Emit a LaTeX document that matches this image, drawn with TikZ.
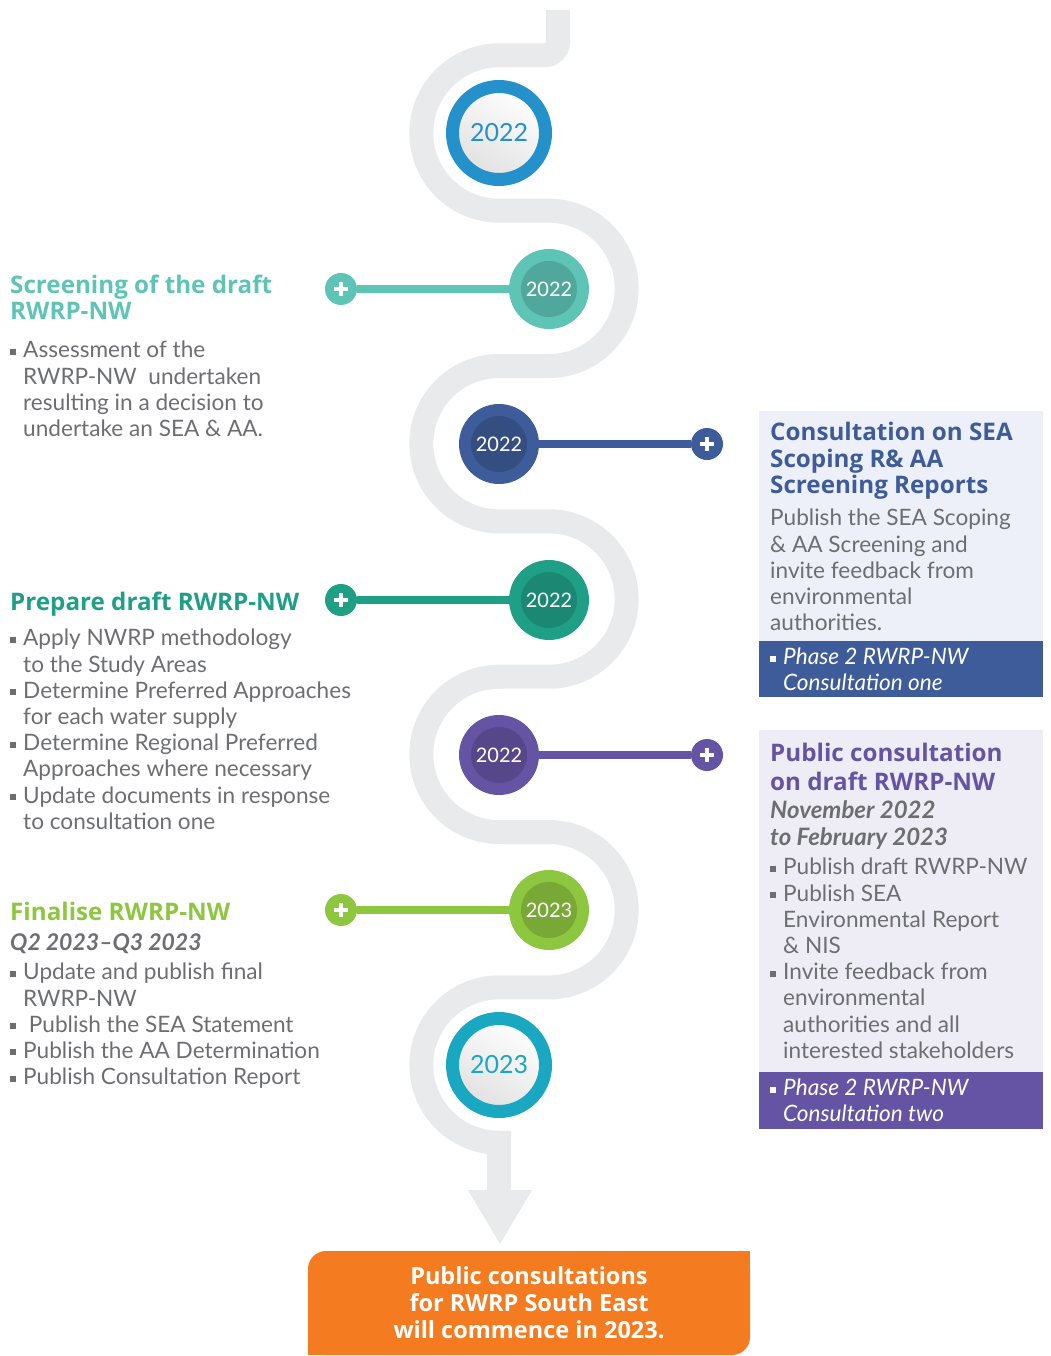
\documentclass[tikz,border=0pt]{standalone}
\usepackage{fontspec}
\setmainfont{Lato}
\newfontfamily\headfont{Open Sans}
\usetikzlibrary{positioning}

\definecolor{road}{HTML}{E9EAEC}
\definecolor{txt}{HTML}{6D6E71}
\definecolor{yblue}{HTML}{2591CB}
\definecolor{ycyan}{HTML}{1AA7C1}
\definecolor{yteal}{HTML}{5EC4B6}
\definecolor{ynavy}{HTML}{3E5C99}
\definecolor{ygreen}{HTML}{1FA086}
\definecolor{ypurple}{HTML}{6454A3}
\definecolor{ylime}{HTML}{8DC63F}
\definecolor{boxone}{HTML}{EDF0F8}
\definecolor{boxtwo}{HTML}{EEEDF6}
\definecolor{finalorange}{HTML}{F47B20}

\newcommand\sqbul{\makebox[13pt][l]{\rule[3pt]{6pt}{6pt}}}
\newcommand\sqgap{\hspace*{13pt}}

\begin{document}
\begin{tikzpicture}[x=1pt, y=-1pt,
  bigyear/.style={circle, draw=#1, line width=13pt, minimum size=93pt, inner sep=0pt,
    top color=white, bottom color=black!12, shading angle=-30, text=#1,
    font=\fontsize{25}{25}\selectfont},
  midyear/.style={circle, fill=#1, minimum size=80pt, inner sep=0pt, text=white,
    font=\fontsize{20}{20}\selectfont,
    path picture={\fill[#1!85!black] (path picture bounding box.center) circle (28pt);}},
  knob/.style={circle, fill=#1, minimum size=32pt, inner sep=0pt,
    path picture={\fill[white] (path picture bounding box.center) ++(-7pt,-2pt) rectangle ++(14pt,4pt);
                  \fill[white] (path picture bounding box.center) ++(-2pt,-7pt) rectangle ++(4pt,14pt);}},
  stem/.style={draw=#1, line width=8pt},
  headtext/.style={anchor=north west, inner sep=0pt, align=left, text=#1,
    font=\headfont\bfseries\fontsize{24.2}{26}\selectfont, execute at begin node=\strut},
  datetext/.style={anchor=north west, inner sep=0pt, align=left, text=txt,
    font=\bfseries\itshape\fontsize{24}{27}\selectfont, execute at begin node=\strut},
  bodytext/.style={anchor=north west, inner sep=0pt, align=left, text=txt,
    font=\fontsize{22.6}{26.2}\selectfont, execute at begin node=\strut}]
\useasboundingbox (0,0) rectangle (1050,1356);

\draw[road, line width=24pt] (558,10) -- (558,42) arc[start angle=0, end angle=90, radius=13.33]
  -- (499,55.33) arc[start angle=270, end angle=90, radius=77.67]
  -- ++(50,0) arc[start angle=-90, end angle=90, radius=77.67]
  -- ++(-50,0) arc[start angle=270, end angle=90, radius=77.67]
  -- ++(50,0) arc[start angle=-90, end angle=90, radius=77.67]
  -- ++(-50,0) arc[start angle=270, end angle=90, radius=77.67]
  -- ++(50,0) arc[start angle=-90, end angle=90, radius=77.67]
  -- ++(-50,0) arc[start angle=270, end angle=90, radius=77.67]
  -- (499,1191);
\fill[road] (468,1190) -- (532,1190) -- (500,1244) -- cycle;

\node (y1) [bigyear=yblue] at (499,133) {2022};
\node (y2) [midyear=yteal] at (549,289) {2022};
\node (y3) [midyear=ynavy] at (499,444) {2022};
\node (y4) [midyear=ygreen] at (549,600) {2022};
\node (y5) [midyear=ypurple] at (499,755) {2022};
\node (y6) [midyear=ylime] at (549,910) {2023};
\node (y7) [bigyear=ycyan] at (499,1065) {2023};

\node (k2) [knob=yteal] at (341,289) {};
\node (k3) [knob=ynavy] at (707,444) {};
\node (k4) [knob=ygreen] at (341,600) {};
\node (k5) [knob=ypurple] at (707,755) {};
\node (k6) [knob=ylime] at (341,910) {};
\draw[stem=yteal] (k2) -- (y2);
\draw[stem=ynavy] (k3) -- (y3);
\draw[stem=ygreen] (k4) -- (y4);
\draw[stem=ypurple] (k5) -- (y5);
\draw[stem=ylime] (k6) -- (y6);

\node (screenhead) [headtext=yteal] at (10,275) {Screening of the draft\\RWRP-NW};
\node (screenbody) [bodytext] at (10,341) {\sqbul Assessment of the\\
  \sqgap RWRP-NW\ \ undertaken\\ \sqgap resulting in a decision to\\ \sqgap undertake an SEA \& AA.};

\node (prephead) [headtext=ygreen] at (10,592) {Prepare draft RWRP-NW};
\node (prepbody) [bodytext] at (10,629) {\sqbul Apply NWRP methodology\\ \sqgap to the Study Areas\\
  \sqbul Determine Preferred Approaches\\ \sqgap for each water supply\\
  \sqbul Determine Regional Preferred\\ \sqgap Approaches where necessary\\
  \sqbul Update documents in response\\ \sqgap to consultation one};

\node (finhead) [headtext=ylime] at (10,902) {Finalise RWRP-NW};
\node (findate) [datetext, font=\bfseries\itshape\fontsize{23}{27}\selectfont] at (10,931) {Q2 2023--Q3 2023};
\node (finbody) [bodytext] at (10,963) {\sqbul Update and publish final\\ \sqgap RWRP-NW\\
  \sqbul\ Publish the SEA Statement\\ \sqbul Publish the AA Determination\\ \sqbul Publish Consultation Report};

\fill[boxone] (759,411) rectangle (1043,697);
\fill[ynavy] (759,641) rectangle (1043,697);
\node (conshead) [headtext=ynavy, font=\headfont\bfseries\fontsize{24.2}{26.5}\selectfont] at (770,422) {Consultation on SEA\\Scoping R\& AA\\Screening Reports};
\node (consbody) [bodytext] at (770,509) {Publish the SEA Scoping\\ \& AA Screening and\\ invite feedback from\\ environmental\\ authorities.};
\node (consband) [bodytext, text=white, font=\itshape\fontsize{22.6}{26}\selectfont] at (770,648) {\sqbul Phase 2 RWRP-NW\\ \sqgap Consultation one};

\fill[boxtwo] (759,730) rectangle (1043,1129);
\fill[ypurple] (759,1072) rectangle (1043,1129);
\node (pubhead) [headtext=ypurple, font=\headfont\bfseries\fontsize{24.2}{29}\selectfont] at (770,743) {Public consultation\\on draft RWRP-NW};
\node (pubdate) [datetext] at (770,800) {November 2022\\to February 2023};
\node (pubbody) [bodytext] at (770,858) {\sqbul Publish draft RWRP-NW\\ \sqbul Publish SEA\\
  \sqgap Environmental Report\\ \sqgap \& NIS\\ \sqbul Invite feedback from\\
  \sqgap environmental\\ \sqgap authorities and all\\ \sqgap interested stakeholders};
\node (pubband) [bodytext, text=white, font=\itshape\fontsize{22.6}{26}\selectfont] at (770,1079) {\sqbul Phase 2 RWRP-NW\\ \sqgap Consultation two};

\node (final) [fill=finalorange, rounded corners=18pt, minimum width=442pt, minimum height=104pt,
  align=center, text=white, font=\headfont\bfseries\fontsize{23.5}{27}\selectfont] at (529,1303)
  {Public consultations\\for RWRP South East\\will commence in 2023.};
\fill[finalorange] (final.north east) rectangle ++(-20,20);
\fill[finalorange] (final.south west) rectangle ++(20,-20);
\end{tikzpicture}
\end{document}
